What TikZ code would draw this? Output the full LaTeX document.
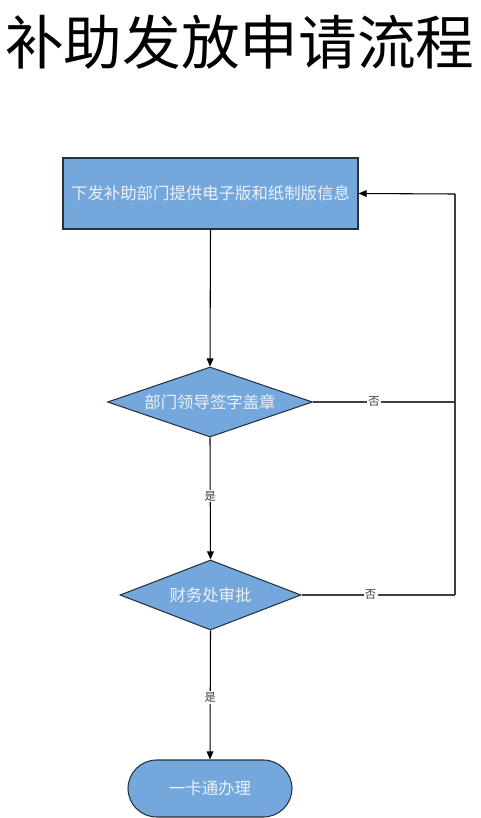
\documentclass[tikz,border=0pt]{standalone}
\usepackage{fontspec}
\setmainfont{Noto Sans CJK SC}
\newfontfamily\cjk{Noto Sans CJK SC}
\usetikzlibrary{shapes.geometric,arrows.meta}
\definecolor{boxblue}{RGB}{116,168,220}
\definecolor{boxedge}{RGB}{40,50,60}
\definecolor{txtwhite}{RGB}{235,240,248}
\tikzset{
  shapetext/.style={font=\cjk\fontsize{12.3}{14}\selectfont, text=txtwhite},
  procbox/.style={draw=boxedge, fill=boxblue, line width=0.8pt, shapetext},
  decbox/.style={diamond, draw=boxedge, fill=boxblue, line width=0.8pt, shapetext, inner sep=0pt},
  termbox/.style={draw=boxedge, fill=boxblue, line width=0.8pt, shapetext, rounded corners=21.5pt},
  flow/.style={draw=black, line width=0.8pt, -{Triangle[length=6pt,width=5pt]}},
  loopline/.style={draw=black!75, line width=0.8pt},
  lbl/.style={fill=white, font=\cjk\fontsize{8.5}{10}\selectfont, text=black!75, inner sep=1pt}
}
\begin{document}
\begin{tikzpicture}[x=0.75pt,y=-0.75pt]
\useasboundingbox (0,0) rectangle (480,818);
\node (title) at (240,42) {\cjk\fontsize{44}{50}\selectfont 补助发放申请流程};
\node[procbox, minimum width=295*0.75pt, minimum height=71*0.75pt] (r1) at (210.5,193.5) {下发补助部门提供电子版和纸制版信息};
\node[decbox, aspect=2.93, minimum width=205*0.75pt, minimum height=70*0.75pt] (d1) at (210,402) {部门领导签字盖章};
\node[decbox, aspect=2.59, minimum width=181*0.75pt, minimum height=70*0.75pt] (d2) at (210.5,595) {财务处审批};
\node[termbox, minimum width=164*0.75pt, minimum height=57*0.75pt] (t1) at (210,788.5) {一卡通办理};
\coordinate (c1) at (455,402);
\coordinate (c2) at (455,595);
\coordinate (c3) at (455,194);
\draw[flow] (r1.south) -- (d1.north);
\draw[flow] (d1.south) -- node[lbl, pos=0.48] {是} (d2.north);
\draw[flow] (d2.south) -- node[lbl, pos=0.52] {是} (t1.north);
\draw[loopline] (d1.east) -- node[lbl, pos=0.43] {否} (c1);
\draw[loopline] (d2.east) -- node[lbl, pos=0.45] {否} (c2);
\draw[loopline] (c2) -- (c3);
\draw[flow] (c3) -- (r1.east);
\end{tikzpicture}
\end{document}
